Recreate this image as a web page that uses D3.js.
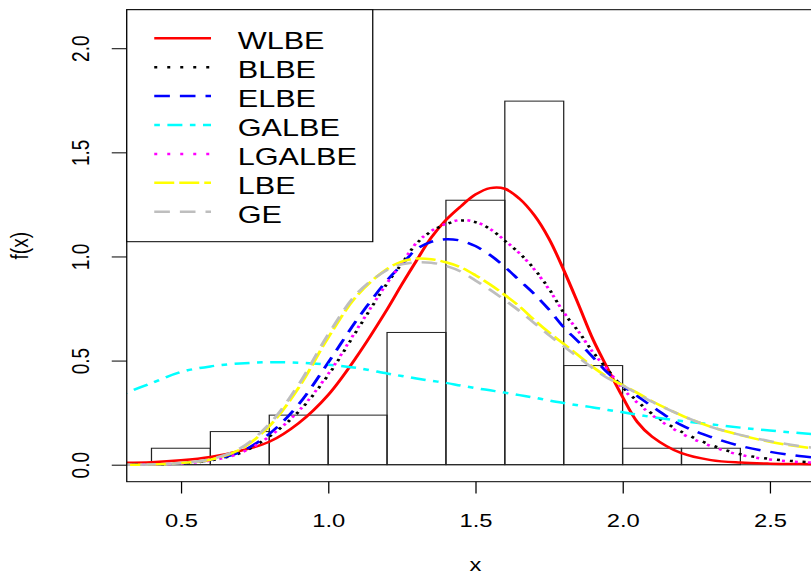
<!DOCTYPE html>
<html><head><meta charset="utf-8">
<script src="https://cdn.jsdelivr.net/npm/d3@7"></script>
<style>html,body{margin:0;padding:0;background:#fff;overflow:hidden}</style>
</head><body><svg id="chart" width="811" height="577"></svg>
<script>
// ---- data ----
const xGrid = [0.30,0.40,0.50,0.60,0.70,0.80,0.90,1.00,1.10,1.20,1.25,1.30,1.35,1.40,1.45,1.50,1.55,1.60,1.65,1.70,1.75,1.80,1.85,1.90,1.95,2.00,2.05,2.10,2.20,2.30,2.40,2.50,2.60,2.70];
const wlbe   = [0.009,0.012,0.021,0.037,0.066,0.110,0.200,0.335,0.525,0.745,0.865,0.980,1.090,1.175,1.240,1.297,1.328,1.325,1.277,1.198,1.085,0.935,0.770,0.600,0.460,0.325,0.205,0.135,0.055,0.022,0.010,0.005,0.003,0.002];
const blbe   = [0.000,0.001,0.006,0.020,0.055,0.135,0.255,0.430,0.650,0.870,0.965,1.062,1.120,1.155,1.172,1.165,1.132,1.075,1.015,0.940,0.845,0.730,0.640,0.540,0.455,0.372,0.305,0.245,0.158,0.095,0.050,0.028,0.015,0.009];
const elbe   = [0.000,0.001,0.007,0.022,0.060,0.148,0.290,0.490,0.700,0.885,0.960,1.035,1.070,1.083,1.076,1.050,1.007,0.950,0.885,0.820,0.745,0.660,0.590,0.515,0.440,0.380,0.330,0.280,0.190,0.133,0.090,0.062,0.042,0.028];
const galbe  = [0.337,0.392,0.445,0.472,0.486,0.492,0.490,0.480,0.464,0.438,0.426,0.414,0.403,0.393,0.380,0.368,0.357,0.346,0.334,0.322,0.308,0.296,0.285,0.275,0.263,0.252,0.240,0.229,0.210,0.194,0.178,0.164,0.152,0.140];
const lgalbe = [0.000,0.001,0.006,0.020,0.055,0.135,0.258,0.435,0.655,0.872,0.967,1.065,1.122,1.157,1.175,1.166,1.132,1.077,1.015,0.938,0.842,0.732,0.640,0.538,0.455,0.366,0.298,0.238,0.150,0.089,0.047,0.025,0.013,0.007];
const lbe    = [0.000,0.001,0.008,0.024,0.072,0.185,0.370,0.610,0.815,0.940,0.975,0.990,0.987,0.972,0.948,0.910,0.865,0.815,0.760,0.695,0.635,0.580,0.525,0.468,0.420,0.382,0.345,0.305,0.237,0.182,0.142,0.110,0.087,0.068];
const ge     = [0.000,0.001,0.008,0.026,0.078,0.195,0.385,0.625,0.825,0.935,0.962,0.972,0.970,0.955,0.928,0.885,0.840,0.790,0.738,0.680,0.622,0.568,0.515,0.462,0.415,0.380,0.342,0.302,0.237,0.182,0.143,0.113,0.090,0.072];

const binEdges   = [0.4,0.6,0.8,1.0,1.2,1.4,1.6,1.8,2.0,2.2,2.4];
const binDensity = [0.079,0.159,0.238,0.238,0.635,1.270,1.746,0.476,0.079,0.079];

const xTicks = [0.5,1.0,1.5,2.0,2.5];
const yTicks = [0.0,0.5,1.0,1.5,2.0];
const legendLabels = ["WLBE","BLBE","ELBE","GALBE","LGALBE","LBE","GE"];
const seriesValues = [wlbe, blbe, elbe, galbe, lgalbe, lbe, ge];
const seriesColors = ["#FF0000","#000000","#0000FF","#00FFFF","#FF00FF","#FFFF00","#BEBEBE"];
const seriesDash   = [null,"2.4,8","12.5,8","4.5,6,12,6","2.4,8","16,4","12.5,8"];
const seriesOffset = [0,0,0,0,5,0,6];
const xLabel = "x", yLabel = "f(x)";

// ---- layout ----
const SX = 1.25;           // horizontal stretch of the original picture
const FONT = "'Liberation Sans', Arial, Helvetica, sans-serif";
const L = 101.4, R = 659.2, T = 9.7, B = 481.7;

const svg = d3.select("#chart");
const g = svg.append("g").attr("transform", `scale(${SX},1)`);

const x = d3.scaleLinear().domain([0.316, 2.684]).range([L, R]);
const y = d3.scaleLinear().domain([-0.0817, 2.185]).range([B, T]);

g.append("clipPath").attr("id","plotclip").append("rect")
  .attr("x", L).attr("y", T).attr("width", R - L).attr("height", B - T);

const plot = g.append("g").attr("clip-path","url(#plotclip)");

// histogram
plot.selectAll("rect.bar").data(binDensity).join("rect")
  .attr("class","bar")
  .attr("x", (d,i) => x(binEdges[i]))
  .attr("width", (d,i) => x(binEdges[i+1]) - x(binEdges[i]))
  .attr("y", d => y(d))
  .attr("height", d => y(0) - y(d))
  .attr("fill","none").attr("stroke","#222").attr("stroke-width",1);

// baseline
plot.append("line").attr("x1", L).attr("x2", R).attr("y1", y(0)).attr("y2", y(0))
  .attr("stroke","#222").attr("stroke-width",1);

// curves
const line = d3.line().x(d => x(d[0])).y(d => y(d[1])).curve(d3.curveCatmullRom.alpha(0.5));
seriesValues.forEach((vals, i) => {
  plot.append("path")
    .datum(xGrid.map((xv, j) => [xv, vals[j]]))
    .attr("d", line)
    .attr("fill","none")
    .attr("stroke", seriesColors[i])
    .attr("stroke-width", 2.5)
    .attr("stroke-dasharray", seriesDash[i])
    .attr("stroke-dashoffset", seriesOffset[i])
    .attr("stroke-linecap","butt");
});

// box
g.append("rect").attr("x", L).attr("y", T).attr("width", R - L).attr("height", B - T)
  .attr("fill","none").attr("stroke","#000").attr("stroke-width",1);

// x axis
const gx = g.append("g").attr("transform", `translate(0,${B})`)
  .call(d3.axisBottom(x).tickValues(xTicks).tickFormat(d3.format(".1f")).tickSize(11.8).tickPadding(20));
gx.select(".domain").remove();
gx.attr("font-size", 19).attr("font-family", FONT);
gx.selectAll("line").attr("stroke","#000");
gx.selectAll("text").attr("fill","#000");

// y axis
const gy = g.append("g").attr("transform", `translate(${L},0)`)
  .call(d3.axisLeft(y).tickValues(yTicks).tickFormat(d3.format(".1f")).tickSize(12));
gy.select(".domain").remove();
gy.attr("font-size", 19).attr("font-family", FONT);
gy.selectAll("line").attr("stroke","#000");
gy.selectAll("text").attr("fill","#000")
  .attr("x", null).attr("dy", null).attr("text-anchor","middle")
  .attr("transform", `translate(${71.4 - L},0) rotate(-90)`);

// axis titles
g.append("text").attr("x", (L + R) / 2).attr("y", 571).attr("text-anchor","middle")
  .attr("font-size", 19).attr("font-family", FONT).attr("fill","#000").text(xLabel);
g.append("text").attr("transform", `translate(22.4,${(T + B) / 2}) rotate(-90)`).attr("text-anchor","middle")
  .attr("font-size", 19).attr("font-family", FONT).attr("fill","#000").text(yLabel);

// legend
const lg = g.append("g");
lg.append("rect").attr("x", L).attr("y", T).attr("width", 298.2 - L).attr("height", 241.7 - T)
  .attr("fill","#fff").attr("stroke","#000").attr("stroke-width",1);
legendLabels.forEach((lab, i) => {
  const ly = 38.3 + i * 28.9;
  lg.append("line").attr("x1", 123.4).attr("x2", 168.8).attr("y1", ly).attr("y2", ly)
    .attr("stroke", seriesColors[i]).attr("stroke-width", 2.5)
    .attr("stroke-dasharray", seriesDash[i]).attr("stroke-linecap","butt");
  lg.append("text").attr("x", 190.2).attr("y", ly + 11)
    .attr("font-size", 24.5).attr("font-family", FONT).attr("fill","#000").text(lab);
});
</script>
</body></html>
